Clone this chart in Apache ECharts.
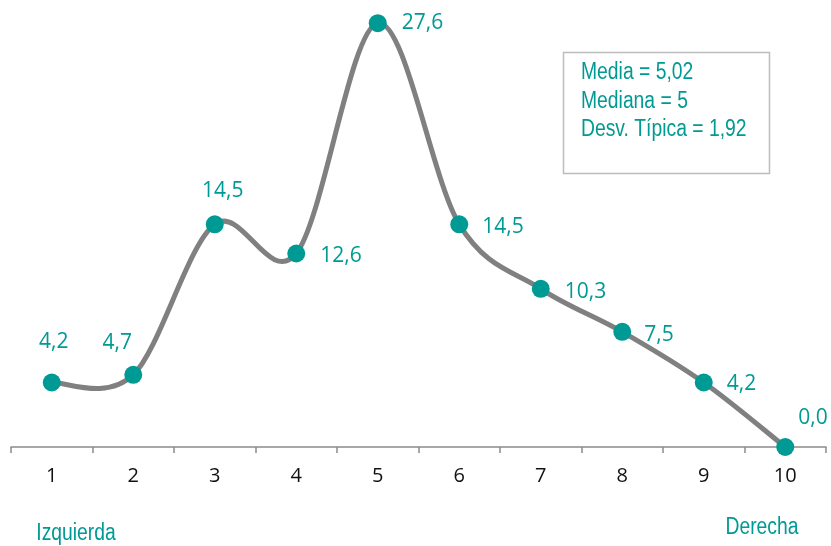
<!DOCTYPE html>
<html>
<head>
<meta charset="utf-8">
<script src="https://cdn.jsdelivr.net/npm/echarts@6/dist/echarts.min.js"></script>
<style>
  html, body { margin: 0; padding: 0; background: #ffffff; }
  #chart { width: 831px; height: 546px; }
</style>
</head>
<body>
<div id="chart"></div>
<script>
// Position on the left-right scale (1 = Izquierda, 10 = Derecha) and share of answers (%)
const categories = ['1', '2', '3', '4', '5', '6', '7', '8', '9', '10'];
const values = [4.2, 4.7, 14.5, 12.6, 27.6, 14.5, 10.3, 7.5, 4.2, 0.0];
const summaryLines = ['Media = 5,02', 'Mediana = 5', 'Desv. Típica = 1,92'];
const leftEndLabel = 'Izquierda';
const rightEndLabel = 'Derecha';

const TEAL = '#009a94';
const MARKER = 18;
const NARROW_FONT = '23px "Liberation Sans", Arial, sans-serif';
const NARROW_SCALE = 0.84;

// Label placement around each marker: [dx, dy] of the label anchor from the
// marker centre, plus horizontal alignment of the text at that anchor.
const labelPlacement = [
  { d: [2, -40], align: 'center' },
  { d: [-16, -32], align: 'center' },
  { d: [8, -33], align: 'center' },
  { d: [24, 3], align: 'left' },
  { d: [24, 0], align: 'left' },
  { d: [23, 3], align: 'left' },
  { d: [24, 3], align: 'left' },
  { d: [22, 3], align: 'left' },
  { d: [23, 2], align: 'left' },
  { d: [13, -29], align: 'left' }
];

const fmt = v => v.toFixed(1).replace('.', ',');

const markerData = values.map((v, i) => {
  const p = labelPlacement[i];
  return {
    value: v,
    label: {
      position: [MARKER / 2 + p.d[0], MARKER / 2 + p.d[1]],
      align: p.align,
      verticalAlign: 'middle'
    }
  };
});

// Smoothed connecting curve: one cubic Bezier per segment, with tangents taken
// from the neighbouring points (Catmull-Rom style, tension 1/6).
const curveData = values.map((v, i) => [i, v]);
const n = values.length;

function renderSegment(params, api) {
  const i = params.dataIndex;
  if (i >= n - 1) return null;
  const pt = j => {
    const k = Math.max(0, Math.min(n - 1, j));
    return api.coord([k, api.value(1, k)]);
  };
  const p0 = pt(i - 1), p1 = pt(i), p2 = pt(i + 1), p3 = pt(i + 2);
  const t = 1 / 6;
  return {
    type: 'bezierCurve',
    shape: {
      x1: p1[0], y1: p1[1],
      cpx1: p1[0] + (p2[0] - p0[0]) * t,
      cpy1: p1[1] + (p2[1] - p0[1]) * t,
      cpx2: p2[0] - (p3[0] - p1[0]) * t,
      cpy2: p2[1] - (p3[1] - p1[1]) * t,
      x2: p2[0], y2: p2[1]
    },
    style: { stroke: '#808080', lineWidth: 5, fill: null, lineCap: 'round' },
    silent: true
  };
}

const chart = echarts.init(document.getElementById('chart'), null, { renderer: 'canvas' });

chart.setOption({
  backgroundColor: '#ffffff',
  animation: false,
  grid: { left: 11, right: 5, top: 17, bottom: 99, containLabel: false },
  xAxis: {
    type: 'category',
    data: categories,
    boundaryGap: true,
    axisLine: { show: true, lineStyle: { color: '#8c8c8c', width: 1.5 } },
    axisTick: { show: true, length: 6, lineStyle: { color: '#8c8c8c', width: 1.5 } },
    axisLabel: {
      margin: 19,
      color: '#111111',
      fontFamily: 'Open Sans',
      fontSize: 20
    },
    splitLine: { show: false }
  },
  yAxis: {
    type: 'value',
    min: 0,
    max: 28,
    show: false,
    splitLine: { show: false }
  },
  series: [
    {
      type: 'custom',
      data: curveData,
      renderItem: renderSegment,
      encode: { x: 0, y: 1 },
      z: 1,
      clip: false
    },
    {
      type: 'line',
      data: markerData,
      symbol: 'circle',
      symbolSize: MARKER,
      showAllSymbol: true,
      lineStyle: { opacity: 0, width: 0 },
      itemStyle: { color: TEAL, borderWidth: 0 },
      label: {
        show: true,
        color: TEAL,
        fontFamily: 'Open Sans',
        fontSize: 21,
        formatter: p => fmt(p.value)
      },
      emphasis: { disabled: true },
      z: 3
    }
  ],
  graphic: [
    {
      type: 'rect',
      shape: { x: 563.5, y: 52.5, width: 206, height: 121 },
      style: { fill: '#ffffff', stroke: '#bdbdbd', lineWidth: 1.5 },
      z: 10
    },
    ...summaryLines.map((t, i) => ({
      type: 'text',
      x: 581,
      y: 73 + i * 28.5,
      scaleX: NARROW_SCALE,
      style: {
        text: t,
        fill: TEAL,
        font: NARROW_FONT,
        verticalAlign: 'middle',
        align: 'left'
      },
      z: 11
    })),
    {
      type: 'text',
      x: 76,
      y: 534,
      scaleX: NARROW_SCALE,
      style: {
        text: leftEndLabel,
        fill: TEAL,
        font: NARROW_FONT,
        align: 'center',
        verticalAlign: 'middle'
      }
    },
    {
      type: 'text',
      x: 762,
      y: 528,
      scaleX: NARROW_SCALE,
      style: {
        text: rightEndLabel,
        fill: TEAL,
        font: NARROW_FONT,
        align: 'center',
        verticalAlign: 'middle'
      }
    }
  ]
});
</script>
</body>
</html>
